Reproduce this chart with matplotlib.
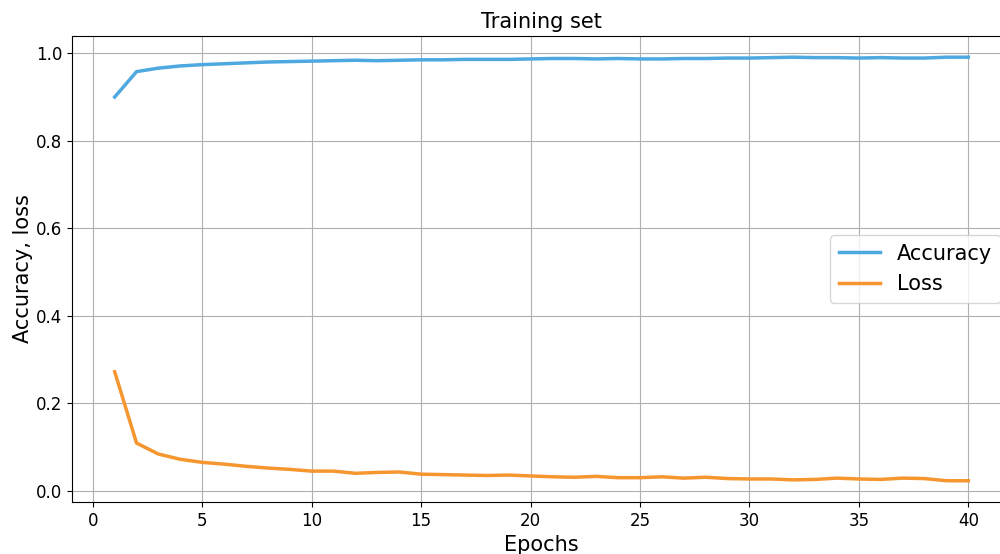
import matplotlib
matplotlib.use("Agg")
import matplotlib.pyplot as plt

# values
epochs = list(range(1, 41))
accuracy = [0.900, 0.958, 0.966, 0.971, 0.974, 0.976, 0.978, 0.980, 0.981, 0.982,
            0.983, 0.984, 0.983, 0.984, 0.985, 0.985, 0.986, 0.986, 0.986, 0.987,
            0.988, 0.988, 0.987, 0.988, 0.987, 0.987, 0.988, 0.988, 0.989, 0.989,
            0.990, 0.991, 0.990, 0.990, 0.989, 0.990, 0.989, 0.989, 0.991, 0.991]
loss = [0.272, 0.109, 0.084, 0.072, 0.065, 0.061, 0.056, 0.052, 0.049, 0.045,
        0.045, 0.040, 0.042, 0.043, 0.038, 0.037, 0.036, 0.035, 0.036, 0.034,
        0.032, 0.031, 0.033, 0.030, 0.030, 0.032, 0.029, 0.031, 0.028, 0.027,
        0.027, 0.025, 0.026, 0.029, 0.027, 0.026, 0.029, 0.028, 0.023, 0.023]

fig = plt.figure(figsize=(10, 5.54), dpi=100)
# the reference is cropped on the right, so the axes run past the figure edge
ax = fig.add_axes([0.072, 0.094, 0.939, 0.841])

ax.plot(epochs, accuracy, color='#4ea9e1', linewidth=2.5, label='Accuracy')
ax.plot(epochs, loss, color='#f5962f', linewidth=2.5, label='Loss')

ax.grid(True)
ax.set_title("Training set", fontsize=15)
ax.set_xlabel("Epochs", fontsize=15)
ax.set_ylabel("Accuracy, loss", fontsize=15, labelpad=2)
ax.tick_params(labelsize=12)
ax.legend(loc='center right', fontsize=15)

fig.savefig("out.png", dpi=100)
